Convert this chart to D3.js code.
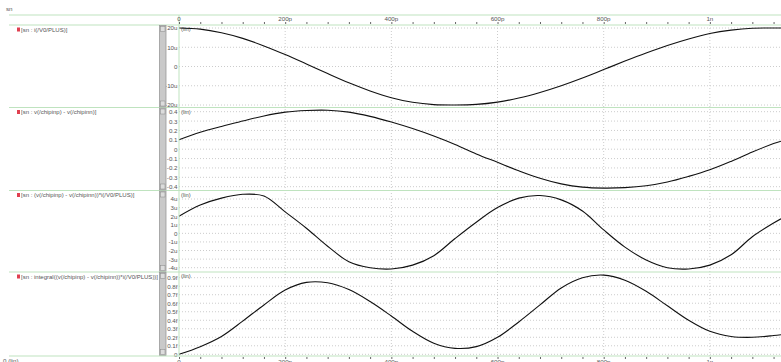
<!DOCTYPE html>
<html>
<head>
<meta charset="utf-8">
<script src="https://cdn.jsdelivr.net/npm/d3@7"></script>
<style>
  html, body { margin: 0; padding: 0; background: #fff; }
  svg { display: block; font-family: "Liberation Sans Narrow", "Liberation Sans", sans-serif; }
</style>
</head>
<body>
<svg id="chart" width="781" height="362"></svg>
<script>
// time in ps
const times = [0, 40, 80, 120, 160, 200, 240, 280, 320, 360, 400, 440, 480, 520, 560, 600,
  640, 680, 720, 760, 800, 840, 880, 920, 960, 1000, 1040, 1080, 1120, 1134];

// i(/V0/PLUS) in uA
const iPlus = [20, 19.4, 17.5, 14.6, 10.7, 6.2, 1.3, -3.7, -8.5, -12.7, -16.2, -18.6, -19.8, -20,
  -19.7, -18.5, -16.4, -13.5, -10, -6.0, -1.6, 2.8, 7.0, 10.9, 14.3, 17.1, 18.9, 19.9, 20, 20];

// v(/chipinp) - v(/chipinn) in V
const vDiff = [0.10, 0.18, 0.243, 0.30, 0.355, 0.395, 0.413, 0.416, 0.395, 0.35, 0.29, 0.22, 0.14, 0.05,
  -0.05, -0.14, -0.23, -0.31, -0.37, -0.405, -0.415, -0.41, -0.39, -0.35, -0.29, -0.22, -0.13, -0.03, 0.06, 0.085];

// product in uW
const power = [2.0, 3.3, 4.1, 4.55, 4.35, 2.5, 0.6, -1.5, -3.3, -4.0, -4.15, -3.7, -2.6, -0.6,
  1.3, 3.0, 4.1, 4.4, 3.9, 2.6, 0.4, -1.6, -3.1, -4.0, -4.15, -3.7, -2.5, -0.4, 1.2, 1.7];

// integral in fJ
const energy = [0, 0.09, 0.21, 0.39, 0.58, 0.755, 0.845, 0.84, 0.76, 0.62, 0.45, 0.27, 0.13, 0.07,
  0.09, 0.20, 0.38, 0.58, 0.78, 0.90, 0.93, 0.87, 0.74, 0.57, 0.40, 0.27, 0.21, 0.20, 0.22, 0.23];

const timeMajor = [0, 200, 400, 600, 800, 1000];
const timeLabels = ["0", "200p", "400p", "600p", "800p", "1n"];

const names = [
  "[sn : i(/V0/PLUS)]",
  "[sn : v(/chipinp) - v(/chipinn)]",
  "[sn : (v(/chipinp) - v(/chipinn))*i(/V0/PLUS)]",
  "[sn : integral((v(/chipinp) - v(/chipinn))*i(/V0/PLUS))]"
];
const iTicks = [20, 10, 0, -10, -20];
const iLabels = ["20u", "10u", "0", "-10u", "-20u"];
const vTicks = [0.4, 0.3, 0.2, 0.1, 0, -0.1, -0.2, -0.3, -0.4];
const vLabels = ["0.4", "0.3", "0.2", "0.1", "0", "-0.1", "-0.2", "-0.3", "-0.4"];
const pTicks = [4, 3, 2, 1, 0, -1, -2, -3, -4];
const pLabels = ["4u", "3u", "2u", "1u", "0", "-1u", "-2u", "-3u", "-4u"];
const eTicks = [0.9, 0.8, 0.7, 0.6, 0.5, 0.4, 0.3, 0.2, 0.1, 0];
const eLabels = ["0.9f", "0.8f", "0.7f", "0.6f", "0.5f", "0.4f", "0.3f", "0.2f", "0.1f", "0"];

const green = "#bfe3bf";
const textColor = "#555";
const fs = 6.2;
const plotLeft = 179, plotRight = 781;

const panels = [
  {name: names[0], values: iPlus, domain: [-20, 20], range: [105, 28], ticks: iTicks, labels: iLabels, top: 25, bottom: 107.5},
  {name: names[1], values: vDiff, domain: [-0.4, 0.4], range: [186.7, 111.7], ticks: vTicks, labels: vLabels, top: 107.5, bottom: 190.5},
  {name: names[2], values: power, domain: [-4, 4], range: [267.7, 199], ticks: pTicks, labels: pLabels, top: 190.5, bottom: 272},
  {name: names[3], values: energy, domain: [0, 0.9], range: [354.3, 277.7], ticks: eTicks, labels: eLabels, top: 272, bottom: 356}
];

const svg = d3.select("#chart");

const x = d3.scaleLinear().domain([0, 1134]).range([plotLeft, plotRight]);

// title
svg.append("text").attr("x", 6).attr("y", 11).attr("font-size", fs).attr("fill", textColor).text("sn");

// vertical time grid
svg.append("g")
  .selectAll("line")
  .data(timeMajor.slice(1))
  .enter().append("line")
  .attr("x1", d => x(d)).attr("x2", d => x(d))
  .attr("y1", 25).attr("y2", 356)
  .attr("stroke", "#ccc").attr("stroke-dasharray", "1,2");

panels.forEach(p => {
  const y = d3.scaleLinear().domain(p.domain).range(p.range);

  // horizontal grid
  svg.append("g")
    .selectAll("line")
    .data(p.ticks)
    .enter().append("line")
    .attr("x1", plotLeft).attr("x2", plotRight)
    .attr("y1", d => y(d)).attr("y2", d => y(d))
    .attr("stroke", "#ccc").attr("stroke-dasharray", "1,2");

  // y labels
  const ax = svg.append("g")
    .attr("transform", "translate(" + (plotLeft - 1.5) + ",0)")
    .call(d3.axisLeft(y).tickValues(p.ticks).tickSize(0).tickPadding(0)
      .tickFormat((d, i) => p.labels[i]));
  ax.select(".domain").remove();
  ax.selectAll("text").attr("font-size", fs).attr("fill", textColor)
    .attr("font-family", null);

  // separator line above panel
  svg.append("line")
    .attr("x1", 9).attr("x2", plotRight)
    .attr("y1", p.top).attr("y2", p.top)
    .attr("stroke", green).attr("stroke-width", 1);

  // series label
  svg.append("rect").attr("x", 17).attr("y", p.top + 2.5).attr("width", 3).attr("height", 4).attr("fill", "#e04050");
  svg.append("text").attr("x", 21).attr("y", p.top + 6.8)
    .attr("font-size", fs - 0.2).attr("fill", textColor).text(p.name);

  svg.append("text").attr("x", 181).attr("y", p.top + 6)
    .attr("font-size", fs - 0.4).attr("fill", textColor).text("(lin)");

  // curve
  const line = d3.line()
    .x((d, i) => x(times[i]))
    .y(d => y(d))
    .curve(d3.curveCatmullRom);
  svg.append("path")
    .datum(p.values)
    .attr("d", line)
    .attr("fill", "none")
    .attr("stroke", "#111")
    .attr("stroke-width", 1.1);

  // splitter bar segment
  svg.append("rect")
    .attr("x", 159.5).attr("y", p.top + 0.5)
    .attr("width", 6.5).attr("height", p.bottom - p.top - 1)
    .attr("fill", "#c9c9c9").attr("stroke", "#9a9a9a").attr("stroke-width", 0.8);
  svg.append("rect")
    .attr("x", 160.5).attr("y", p.top + 1.5).attr("width", 4.5).attr("height", 5)
    .attr("fill", "#dcdcdc").attr("stroke", "#888").attr("stroke-width", 0.5);
  svg.append("rect")
    .attr("x", 160.5).attr("y", p.bottom - 6.5).attr("width", 4.5).attr("height", 5)
    .attr("fill", "#dcdcdc").attr("stroke", "#888").attr("stroke-width", 0.5);
});

// top green line
svg.append("line").attr("x1", 9).attr("x2", plotRight).attr("y1", 15).attr("y2", 15)
  .attr("stroke", green);
// bottom axis line
svg.append("line").attr("x1", 9).attr("x2", plotRight).attr("y1", 356).attr("y2", 356)
  .attr("stroke", green);
// y axis line
svg.append("line").attr("x1", plotLeft).attr("x2", plotLeft).attr("y1", 15).attr("y2", 356)
  .attr("stroke", green);

// top time axis
const minor = d3.range(0, 1134, 40);
const topAxis = svg.append("g").attr("transform", "translate(0,24)")
  .call(d3.axisTop(x).tickValues(minor).tickSize(2).tickFormat(""));
topAxis.select(".domain").remove();
topAxis.selectAll("line").attr("stroke", "#666");
svg.append("g").selectAll("text")
  .data(timeMajor)
  .enter().append("text")
  .attr("x", d => x(d)).attr("y", 21)
  .attr("text-anchor", "middle").attr("font-size", fs).attr("fill", textColor)
  .text((d, i) => timeLabels[i]);

// bottom time axis
const botAxis = svg.append("g").attr("transform", "translate(0,357)")
  .call(d3.axisBottom(x).tickValues(minor).tickSize(2).tickFormat(""));
botAxis.select(".domain").remove();
botAxis.selectAll("line").attr("stroke", "#666");
svg.append("g").selectAll("text")
  .data(timeMajor)
  .enter().append("text")
  .attr("x", d => x(d)).attr("y", 364)
  .attr("text-anchor", "middle").attr("font-size", fs).attr("fill", textColor)
  .text((d, i) => timeLabels[i]);

svg.append("text").attr("x", 3).attr("y", 363).attr("font-size", fs).attr("fill", textColor).text("0 (lin)");
</script>
</body>
</html>
